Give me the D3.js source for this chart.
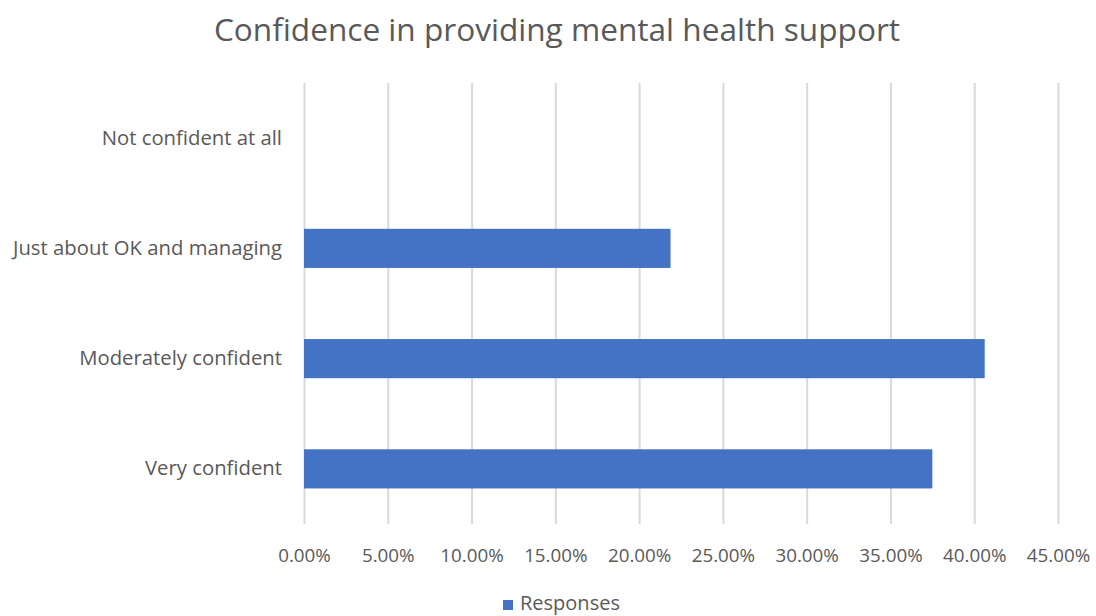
<!DOCTYPE html>
<html><head><meta charset="utf-8">
<script src="https://cdn.jsdelivr.net/npm/d3@7"></script>
<style>body{margin:0;background:#fff}svg{display:block}text{font-family:"Open Sans",sans-serif;fill:#595959}</style>
</head><body><svg id="c" width="1096" height="616"></svg>
<script>
const categories = ["Not confident at all","Just about OK and managing","Moderately confident","Very confident"];
const values = [0, 0.21875, 0.40625, 0.375];
const tickValues = [0,0.05,0.10,0.15,0.20,0.25,0.30,0.35,0.40,0.45];
const seriesName = "Responses";
const title = "Confidence in providing mental health support";

const svg = d3.select("#c");
const x = d3.scaleLinear().domain([0,0.45]).range([304,1058]);
const y = d3.scaleBand().domain(categories).range([83,524]).paddingInner(0.645).paddingOuter(0.3225);

svg.append("text").attr("x",557).attr("y",41).attr("text-anchor","middle")
  .style("font-size","31.6px").text(title);

const gx = svg.append("g").attr("transform","translate(0,524)")
  .call(d3.axisBottom(x).tickValues(tickValues).tickSize(441).tickFormat(d3.format(".2%")));
gx.select(".domain").remove();
gx.selectAll(".tick line").attr("y1",0).attr("y2",-441).attr("stroke","#d9d9d9").attr("stroke-width",2);
gx.selectAll(".tick text").attr("y",32).attr("dy","0.32em").style("font-size","18.8px").attr("fill","#595959");

svg.selectAll("rect.bar").data(values).join("rect").attr("class","bar")
  .attr("x",x(0)).attr("y",(d,i)=>y(categories[i]))
  .attr("width",d=>x(d)-x(0)).attr("height",y.bandwidth())
  .attr("fill","#4472c4");

const gy = svg.append("g").attr("transform","translate(304,0)")
  .call(d3.axisLeft(y).tickSize(0).tickPadding(22));
gy.select(".domain").remove();
gy.selectAll(".tick text").style("font-size","20.3px").attr("fill","#595959");

const lg = svg.append("g");
lg.append("rect").attr("x",503).attr("y",600).attr("width",10).attr("height",10).attr("fill","#4472c4");
lg.append("text").attr("x",520).attr("y",610).style("font-size","20px").text(seriesName);
</script></body></html>
